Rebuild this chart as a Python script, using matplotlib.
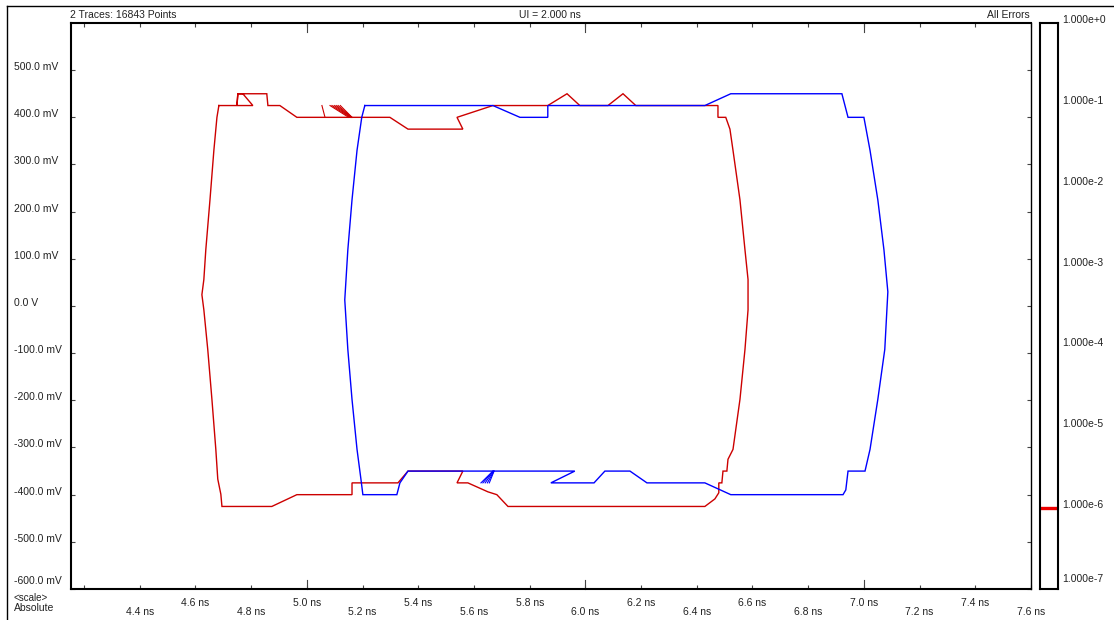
import matplotlib
matplotlib.use('Agg')
import matplotlib.pyplot as plt
import matplotlib.transforms as mtransforms
from matplotlib.lines import Line2D

plt.rcParams['font.family'] = ['Liberation Sans', 'DejaVu Sans']

# ---------------- data (ns, mV) ----------------
red_t = [4.684, 4.806, 4.770, 4.752, 4.749, 4.752, 4.856, 4.860, 4.903, 4.964, 5.298, 5.363,
         5.560, 5.539, 5.668, 5.865, 5.934, 5.980, 6.081, 6.135, 6.181, 6.476, 6.476, 6.504,
         6.519, 6.530, 6.555, 6.573, 6.584, 6.584, 6.573, 6.555, 6.530, 6.512, 6.508, 6.494,
         6.490, 6.487, 6.479, 6.479, 6.465, 6.429,
         5.722, 5.682, 5.650, 5.578, 5.539, 5.560, 5.363, 5.327, 5.162, 5.162, 4.964, 4.874,
         4.695, 4.691, 4.680, 4.673, 4.659, 4.644, 4.630, 4.623, 4.630, 4.637, 4.652, 4.666,
         4.677, 4.684]
red_v = [425, 425, 450, 450, 425, 450, 450, 425, 425, 400, 400, 375,
         375, 400, 425, 425, 450, 425, 425, 450, 425, 425, 400, 400,
         375, 330, 225, 119, 56, -8, -92, -198, -304, -325, -350, -350,
         -375, -375, -375, -396, -409, -425,
         -425, -400, -394, -375, -375, -350, -350, -375, -375, -400, -400, -425,
         -425, -399, -367, -304, -198, -92, -8, 24, 56, 119, 225, 330,
         400, 425]

blue_t = [5.208, 5.668, 5.765, 5.865, 5.865, 6.429, 6.522, 6.921, 6.943, 7.000, 7.022, 7.050,
          7.072, 7.086, 7.075, 7.050, 7.022, 7.004, 6.943, 6.935, 6.925, 6.522, 6.429, 6.221,
          6.160, 6.070, 6.031, 5.876, 5.962, 5.363, 5.334, 5.323, 5.201, 5.194, 5.180, 5.162,
          5.147, 5.136, 5.147, 5.162, 5.180, 5.197, 5.208]
blue_v = [425, 425, 400, 400, 425, 425, 450, 450, 400, 400, 330, 225,
          119, 30, -92, -198, -304, -350, -350, -390, -400, -400, -375, -375,
          -350, -350, -375, -375, -350, -350, -375, -400, -400, -367, -304, -198,
          -92, 13, 119, 225, 330, 400, 425]

# small fans of overlapping edges
red_fan_t0 = [5.054, 5.083, 5.090, 5.098, 5.105, 5.112, 5.120]
red_fan_v0 = [425, 425, 425, 425, 425, 425, 425]
red_fan_t1 = [5.065, 5.150, 5.155, 5.158, 5.160, 5.162, 5.162]
red_fan_v1 = [400, 400, 400, 400, 400, 400, 400]
blue_fan_t0 = [5.625, 5.632, 5.640, 5.648, 5.655]
blue_fan_v0 = [-375, -375, -375, -375, -375]
blue_fan_t1 = [5.668, 5.668, 5.670, 5.672, 5.672]
blue_fan_v1 = [-350, -350, -350, -350, -350]

x_ticks = [4.2, 4.4, 4.6, 4.8, 5.0, 5.2, 5.4, 5.6, 5.8, 6.0, 6.2, 6.4, 6.6, 6.8, 7.0, 7.2, 7.4, 7.6]
x_labels = ['', '4.4 ns', '4.6 ns', '4.8 ns', '5.0 ns', '5.2 ns', '5.4 ns', '5.6 ns', '5.8 ns',
            '6.0 ns', '6.2 ns', '6.4 ns', '6.6 ns', '6.8 ns', '7.0 ns', '7.2 ns', '7.4 ns', '7.6 ns']
y_ticks = [-600, -500, -400, -300, -200, -100, 0, 100, 200, 300, 400, 500]
y_labels = ['-600.0 mV', '-500.0 mV', '-400.0 mV', '-300.0 mV', '-200.0 mV', '-100.0 mV',
            '0.0 V', '100.0 mV', '200.0 mV', '300.0 mV', '400.0 mV', '500.0 mV']
cb_ticks = [1e0, 1e-1, 1e-2, 1e-3, 1e-4, 1e-5, 1e-6, 1e-7]
cb_labels = ['1.000e+0', '1.000e-1', '1.000e-2', '1.000e-3', '1.000e-4', '1.000e-5',
             '1.000e-6', '1.000e-7']
ber_level = 1e-6

header_left = '2 Traces: 16843 Points'
header_mid = 'UI = 2.000 ns'
header_right = 'All Errors'

# ---------------- figure ----------------
W, H = 1114, 620
fig = plt.figure(figsize=(W / 100, H / 100), dpi=100)
fig.patch.set_facecolor('white')

def fx(px):
    return px / W

def fy(py):
    return 1 - py / H

ax_l, ax_r, ax_t, ax_b = 71, 1031, 23, 589
ax = fig.add_axes([fx(ax_l), fy(ax_b), fx(ax_r - ax_l), (ax_b - ax_t) / H])
ax.set_xlim(4.153, 7.6)
ax.set_ylim(-600, 600)

RED = '#cc0000'
BLUE = '#0000ff'
ax.plot(red_t, red_v, color=RED, lw=1.0, solid_joinstyle='miter')
ax.plot(blue_t, blue_v, color=BLUE, lw=1.0, solid_joinstyle='miter')
for a, b, c, d in zip(red_fan_t0, red_fan_v0, red_fan_t1, red_fan_v1):
    ax.plot([a, c], [b, d], color=RED, lw=0.8)
for a, b, c, d in zip(blue_fan_t0, blue_fan_v0, blue_fan_t1, blue_fan_v1):
    ax.plot([a, c], [b, d], color=BLUE, lw=0.8)

for s in ax.spines.values():
    s.set_linewidth(1.5)
ax.spines['right'].set_linewidth(1.0)

ax.set_xticks(x_ticks)
ax.set_yticks(y_ticks)
ax.set_xticklabels([])
ax.set_yticklabels([])
ax.tick_params(direction='in', top=True, right=True, length=3, width=0.8, color='#444444')

# longer ticks at whole ns
for xv in x_ticks:
    if abs(xv - round(xv)) < 1e-9:
        for yy, sgn in ((0, 1), (1, -1)):
            ax.plot([xv, xv], [yy, yy], transform=ax.get_xaxis_transform())
        ax.add_line(Line2D([xv, xv], [0, 0.016], transform=ax.get_xaxis_transform(),
                           color='#444444', lw=0.8, clip_on=False))
        ax.add_line(Line2D([xv, xv], [1, 1 - 0.016], transform=ax.get_xaxis_transform(),
                           color='#444444', lw=0.8, clip_on=False))

# x tick labels in two staggered rows
xt = ax.get_xaxis_transform()
k = 0
for xv, lab in zip(x_ticks, x_labels):
    if not lab:
        continue
    dy = -14 if k % 2 == 1 else -23
    k += 1
    ax.text(xv, 0, lab, transform=xt + mtransforms.ScaledTranslation(0, dy / 100, fig.dpi_scale_trans),
            ha='center', va='center', fontsize=7.5, color='#222222')

# y tick labels at far left
yt = mtransforms.blended_transform_factory(fig.transFigure, ax.transData)
for yv, lab in zip(y_ticks, y_labels):
    off = 8 if yv == y_ticks[0] else 3
    ax.text(fx(14), yv, lab, transform=yt + mtransforms.ScaledTranslation(0, off / 100, fig.dpi_scale_trans),
            ha='left', va='center', fontsize=7.5, color='#222222', clip_on=False)

# header texts
fig.text(fx(70), fy(15), header_left, ha='left', va='center', fontsize=7.5, color='#222222')
fig.text(fx(550), fy(15), header_mid, ha='center', va='center', fontsize=7.5, color='#222222')
fig.text(fx(1030), fy(15), header_right, ha='right', va='center', fontsize=7.5, color='#222222')
fig.text(fx(14), fy(598), '<scale>', ha='left', va='center', fontsize=7, color='#222222')
fig.text(fx(14), fy(608), 'Absolute', ha='left', va='center', fontsize=7.5, color='#222222')

# outer frame (top and left edges)
fig.add_artist(Line2D([fx(7), 1], [fy(6), fy(6)], transform=fig.transFigure, color='black', lw=1.0))
fig.add_artist(Line2D([fx(7), fx(7)], [fy(6), 0], transform=fig.transFigure, color='black', lw=1.0))

# BER scale panel
cb_l, cb_r = 1040, 1058
cax = fig.add_axes([fx(cb_l), fy(ax_b), fx(cb_r - cb_l), (ax_b - ax_t) / H])
cax.set_yscale('log')
cax.set_ylim(1e-7, 1e0)
cax.set_xlim(0, 1)
cax.set_xticks([])
cax.set_yticks([])
cax.minorticks_off()
for s in cax.spines.values():
    s.set_linewidth(1.5)
cax.plot([0, 1], [ber_level, ber_level], color='#ee0000', lw=2.4, solid_capstyle='butt')

ct = mtransforms.blended_transform_factory(fig.transFigure, cax.transData)
for yv, lab in zip(cb_ticks, cb_labels):
    if yv == cb_ticks[-1]:
        cax.text(fx(1062), yv, lab, transform=ct + mtransforms.ScaledTranslation(0, 5 / 100, fig.dpi_scale_trans),
                 ha='left', va='bottom', fontsize=7.5, color='#222222', clip_on=False)
    else:
        cax.text(fx(1062), yv, lab, transform=ct + mtransforms.ScaledTranslation(0, 3 / 100, fig.dpi_scale_trans),
                 ha='left', va='center', fontsize=7.5, color='#222222', clip_on=False)

fig.savefig('out.png', dpi=100)
